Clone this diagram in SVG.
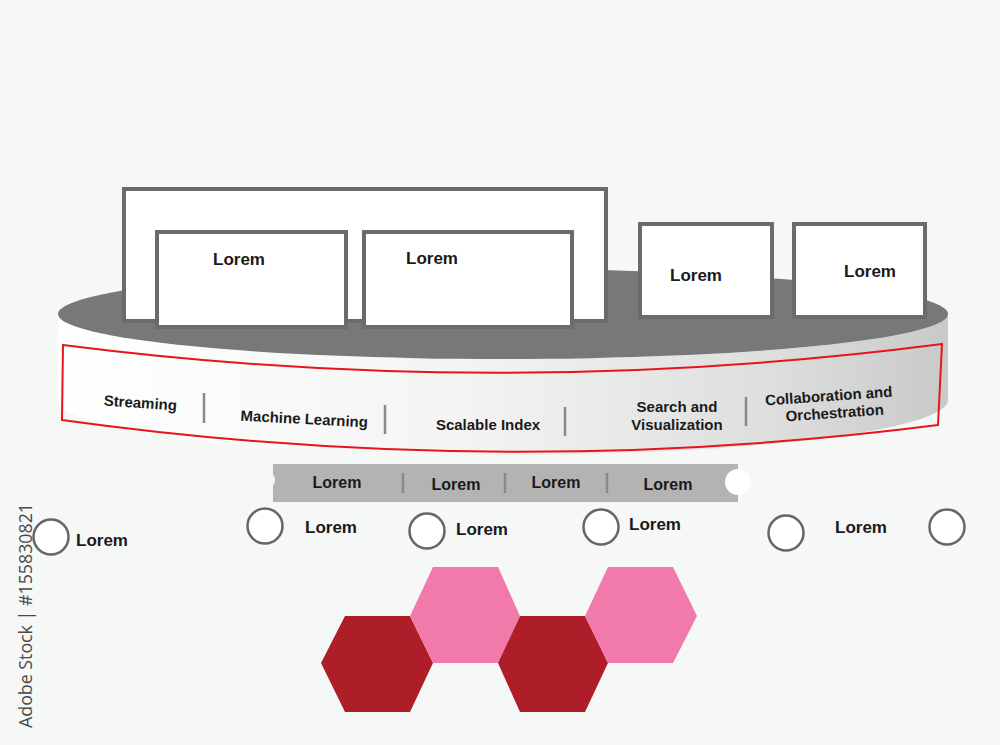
<svg xmlns="http://www.w3.org/2000/svg" width="1000" height="745" viewBox="0 0 1000 745">
<defs>
<linearGradient id="side" x1="0" y1="0" x2="1" y2="0">
<stop offset="0" stop-color="#ffffff"/>
<stop offset="0.45" stop-color="#f4f4f4"/>
<stop offset="0.8" stop-color="#dedede"/>
<stop offset="1" stop-color="#c9c9c9"/>
</linearGradient>
<style>
.box{fill:#ffffff;stroke:#6b6b6b;stroke-width:4}
.t{font-family:"Liberation Sans",Arial,sans-serif;font-weight:bold;fill:#1a1a1a}
.lb{font-size:17px}
.bd{font-size:15px;text-anchor:middle}
.bar{font-size:16px;text-anchor:middle}
.div{stroke:#8a8a8a;stroke-width:2.5}
.circ{fill:#ffffff;stroke:#666666;stroke-width:2.5}
.dark{fill:#ae1e28}
.pink{fill:#f17aaa}
</style>
</defs>
<rect width="1000" height="745" fill="#f6f7f7"/>

<g id="platform">
<path d="M58,314 L58,400 A445,55 0 0 0 948,400 L948,314 A445,45 0 0 1 58,314 Z" fill="url(#side)"/>
<ellipse cx="503" cy="314" rx="445" ry="45" fill="#787878"/>
<path d="M63,345 Q500,401 942,344 L938,425 Q500,481 62,420 Z" fill="none" stroke="#e8141c" stroke-width="2"/>
</g>

<g id="box-back"><rect class="box" x="124" y="189" width="482" height="132"/></g>
<g id="box-1"><rect class="box" x="157" y="232" width="189" height="95"/><text class="t lb" x="239" y="265" text-anchor="middle">Lorem</text></g>
<g id="box-2"><rect class="box" x="364" y="232" width="208" height="95"/><text class="t lb" x="432" y="264" text-anchor="middle">Lorem</text></g>
<g id="box-3"><rect class="box" x="640" y="224" width="132" height="93"/><text class="t lb" x="696" y="281" text-anchor="middle">Lorem</text></g>
<g id="box-4"><rect class="box" x="794" y="224" width="131" height="93"/><text class="t lb" x="870" y="277" text-anchor="middle">Lorem</text></g>

<g id="band-labels">
<text class="t bd" transform="rotate(4 140 408)" x="140" y="408">Streaming</text>
<text class="t bd" transform="rotate(3 304 424)" x="304" y="424">Machine Learning</text>
<text class="t bd" x="488" y="430">Scalable Index</text>
<text class="t bd" x="677" y="412">Search and</text>
<text class="t bd" x="677" y="430">Visualization</text>
<text class="t bd" transform="rotate(-4 829 401)" x="829" y="401">Collaboration and</text>
<text class="t bd" transform="rotate(-4 835 418)" x="835" y="418">Orchestration</text>
</g>
<g id="dividers">
<line class="div" x1="204" y1="393" x2="204" y2="423"/>
<line class="div" x1="385" y1="405" x2="385" y2="434"/>
<line class="div" x1="565" y1="407" x2="565" y2="436"/>
<line class="div" x1="746" y1="397" x2="746" y2="426"/>
</g>

<g id="bar">
<rect x="273" y="464" width="465" height="38" fill="#b3b3b3"/>
<circle cx="267" cy="480" r="8" fill="#f6f7f7"/>
<circle cx="738" cy="482" r="13" fill="#ffffff"/>
<line class="div" x1="403" y1="473" x2="403" y2="493"/>
<line class="div" x1="505" y1="473" x2="505" y2="493"/>
<line class="div" x1="607" y1="473" x2="607" y2="493"/>
<text class="t bar" x="337" y="488">Lorem</text>
<text class="t bar" x="456" y="490">Lorem</text>
<text class="t bar" x="556" y="488">Lorem</text>
<text class="t bar" x="668" y="490">Lorem</text>
</g>

<g id="connectors"></g>

<g id="item-1"><circle class="circ" cx="51" cy="537" r="17.5"/><text class="t lb" x="76" y="546">Lorem</text></g>
<g id="item-2"><circle class="circ" cx="265" cy="526" r="17.5"/><text class="t lb" x="305" y="533">Lorem</text></g>
<g id="item-3"><circle class="circ" cx="427" cy="531" r="17.5"/><text class="t lb" x="456" y="535">Lorem</text></g>
<g id="item-4"><circle class="circ" cx="601" cy="527" r="17.5"/><text class="t lb" x="629" y="530">Lorem</text></g>
<g id="item-5"><circle class="circ" cx="786" cy="533" r="17.5"/><text class="t lb" x="835" y="533">Lorem</text></g>
<g id="item-6"><circle class="circ" cx="947" cy="527" r="17.5"/></g>

<g id="hexagons">
<polygon class="dark" points="321,663 345,616 410,616 433,663 410,712 345,712"/>
<polygon class="pink" points="410,616 433,567 498,567 520,616 498,663 433,663"/>
<polygon class="dark" points="498,663 520,616 585,616 608,663 585,712 520,712"/>
<polygon class="pink" points="585,616 608,567 673,567 697,616 673,663 608,663"/>
</g>

<text transform="translate(32 728) rotate(-90)" font-family="'Open Sans','DejaVu Sans',sans-serif" font-size="18" fill="#4a4a4a" textLength="225" lengthAdjust="spacingAndGlyphs">Adobe Stock | #155830821</text>
</svg>
